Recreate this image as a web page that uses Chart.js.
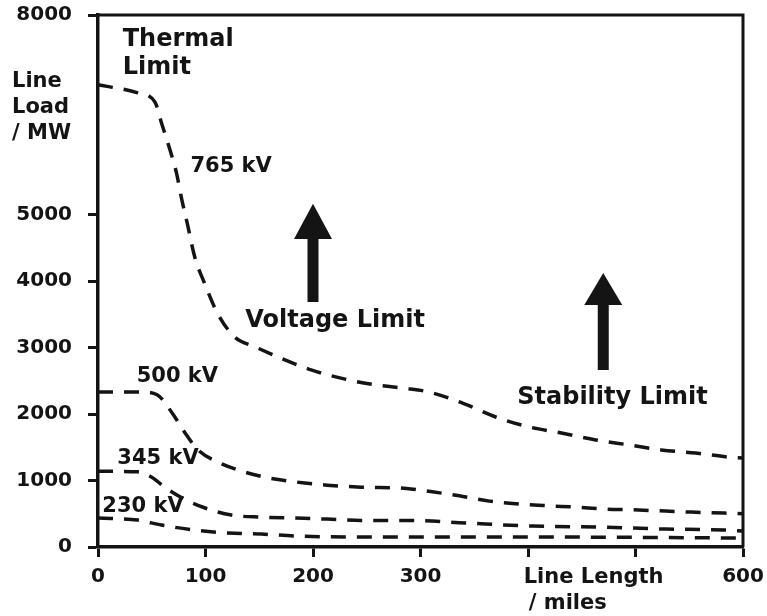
<!DOCTYPE html>
<html>
<head>
<meta charset="utf-8">
<script src="https://cdn.jsdelivr.net/npm/chart.js@4.4.1/dist/chart.umd.min.js"></script>
<style>
    body { margin: 0; background: #fff; }
    canvas { display: block; }
</style>
</head>
<body>
<canvas id="lineLoadChart" width="767" height="616"></canvas>
<script>
// Line loadability vs line length
const lengths765 = [0, 37, 53, 59, 67, 73, 78, 83, 90, 99, 111, 127, 146, 199, 246, 283, 308, 339, 370, 401, 431, 463, 494, 524, 556, 586, 600];
const load765 = [6950, 6830, 6690, 6380, 5970, 5625, 5220, 4870, 4360, 3970, 3520, 3160, 3010, 2660, 2470, 2390, 2330, 2165, 1955, 1805, 1715, 1610, 1535, 1460, 1413, 1353, 1340];

const lengths500 = [0, 41, 55, 69, 81, 93, 111, 130, 158, 183, 213, 245, 287, 311, 336, 364, 389, 419, 444, 472, 496, 528, 552, 583, 600];
const load500 = [2330, 2330, 2290, 2015, 1715, 1460, 1280, 1160, 1040, 980, 930, 900, 880, 830, 770, 690, 650, 620, 600, 570, 560, 540, 525, 510, 500];

const lengths345 = [0, 37, 50, 62, 78, 99, 124, 152, 183, 213, 245, 290, 342, 404, 466, 528, 583, 600];
const load345 = [1140, 1130, 1050, 900, 740, 590, 480, 450, 435, 420, 400, 400, 360, 315, 300, 270, 255, 240];

const lengths230 = [0, 37, 59, 90, 121, 152, 183, 245, 303, 400, 500, 600];
const load230 = [435, 405, 330, 255, 210, 195, 165, 150, 150, 150, 145, 135];

const xTicks = [0, 100, 200, 300, 400, 500, 600];
const xTickLabels = ['0', '100', '200', '300', '', '', '600'];
const yTicks = [0, 1000, 2000, 3000, 4000, 5000, 6000, 7000, 8000];
const yTickLabels = ['0', '1000', '2000', '3000', '4000', '5000', '', '', '8000'];

const FONT = '"DejaVu Sans", sans-serif';
const INK = '#141414';

function toPoints(xs, ys) {
    return xs.map((x, i) => ({ x: x, y: ys[i] }));
}

function curve(label, xs, ys) {
    return {
        label: label,
        data: toPoints(xs, ys),
        borderColor: INK,
        borderWidth: 3.5,
        borderDash: [15, 11],
        pointRadius: 0,
        fill: false,
        cubicInterpolationMode: 'monotone'
    };
}

// text placed in data coordinates
const notes = [
    { text: 'Thermal', x: 23, y: 7625, size: 24 },
    { text: 'Limit', x: 23, y: 7205, size: 24 },
    { text: '765 kV', x: 86, y: 5715, size: 21 },
    { text: 'Voltage Limit', x: 137, y: 3400, size: 24 },
    { text: 'Stability Limit', x: 390, y: 2240, size: 24 },
    { text: '500 kV', x: 36, y: 2570, size: 21 },
    { text: '345 kV', x: 18, y: 1325, size: 21 },
    { text: '230 kV', x: 4, y: 615, size: 21 }
];

// arrows: x position, tip, head base and tail in data units
const arrows = [
    { x: 200, tip: 5160, base: 4630, tail: 3685 },
    { x: 470, tip: 4120, base: 3640, tail: 2660 }
];

const decorPlugin = {
    id: 'decor',
    afterDraw(chart) {
        const { ctx, chartArea, scales } = chart;
        const xs = scales.x, ys = scales.y;
        ctx.save();

        // top and right frame
        ctx.strokeStyle = INK;
        ctx.lineWidth = 3;
        ctx.beginPath();
        ctx.moveTo(chartArea.left, chartArea.top);
        ctx.lineTo(chartArea.right, chartArea.top);
        ctx.lineTo(chartArea.right, chartArea.bottom);
        ctx.stroke();

        ctx.fillStyle = INK;
        ctx.textBaseline = 'middle';
        ctx.textAlign = 'left';
        notes.forEach(n => {
            ctx.font = 'bold ' + n.size + 'px ' + FONT;
            ctx.fillText(n.text, xs.getPixelForValue(n.x), ys.getPixelForValue(n.y));
        });

        arrows.forEach(a => {
            const cx = xs.getPixelForValue(a.x);
            const tip = ys.getPixelForValue(a.tip);
            const base = ys.getPixelForValue(a.base);
            const tail = ys.getPixelForValue(a.tail);
            ctx.beginPath();
            ctx.moveTo(cx, tip);
            ctx.lineTo(cx + 19, base);
            ctx.lineTo(cx + 5.5, base);
            ctx.lineTo(cx + 5.5, tail);
            ctx.lineTo(cx - 5.5, tail);
            ctx.lineTo(cx - 5.5, base);
            ctx.lineTo(cx - 19, base);
            ctx.closePath();
            ctx.fill();
        });

        // axis titles
        ctx.font = 'bold 21px ' + FONT;
        ctx.fillText('Line', 12, 82);
        ctx.fillText('Load', 12, 108);
        ctx.fillText('/ MW', 12, 134);

        ctx.textAlign = 'center';
        ctx.fillText('Line Length', xs.getPixelForValue(461), 578);
        ctx.fillText('/ miles', xs.getPixelForValue(437), 604);
        ctx.restore();
    }
};

new Chart(document.getElementById('lineLoadChart'), {
    type: 'line',
    data: {
        datasets: [
            curve('765 kV', lengths765, load765),
            curve('500 kV', lengths500, load500),
            curve('345 kV', lengths345, load345),
            curve('230 kV', lengths230, load230)
        ]
    },
    options: {
        responsive: false,
        animation: false,
        layout: { padding: { top: 15, right: 24, left: 0, bottom: 0 } },
        plugins: {
            legend: { display: false },
            tooltip: { enabled: false }
        },
        scales: {
            x: {
                type: 'linear',
                min: 0,
                max: 600,
                afterBuildTicks: (scale) => { scale.ticks = xTicks.map(v => ({ value: v })); },
                afterFit: (scale) => {
                    scale.height = 69;
                    scale.paddingLeft = 0;
                    scale.paddingRight = 0;
                },
                ticks: {
                    color: INK,
                    padding: 8,
                    maxRotation: 0,
                    font: { family: FONT, size: 20, weight: 'bold' },
                    callback: (value) => xTickLabels[xTicks.indexOf(value)]
                },
                grid: {
                    drawOnChartArea: false,
                    drawTicks: true,
                    tickLength: 10,
                    tickWidth: 3,
                    tickColor: INK
                },
                border: { color: INK, width: 3.5 }
            },
            y: {
                min: 0,
                max: 8000,
                afterBuildTicks: (scale) => { scale.ticks = yTicks.map(v => ({ value: v })); },
                afterFit: (scale) => {
                    scale.width = 98;
                    scale.paddingTop = 0;
                    scale.paddingBottom = 0;
                },
                ticks: {
                    color: INK,
                    padding: 16,
                    font: { family: FONT, size: 20, weight: 'bold' },
                    callback: (value) => yTickLabels[yTicks.indexOf(value)]
                },
                grid: {
                    drawOnChartArea: false,
                    drawTicks: true,
                    tickLength: 10,
                    tickWidth: 3,
                    tickColor: (c) => (c.tick && yTickLabels[yTicks.indexOf(c.tick.value)] === '' ? 'rgba(0,0,0,0)' : INK)
                },
                border: { color: INK, width: 3.5 }
            }
        }
    },
    plugins: [decorPlugin]
});
</script>
</body>
</html>
